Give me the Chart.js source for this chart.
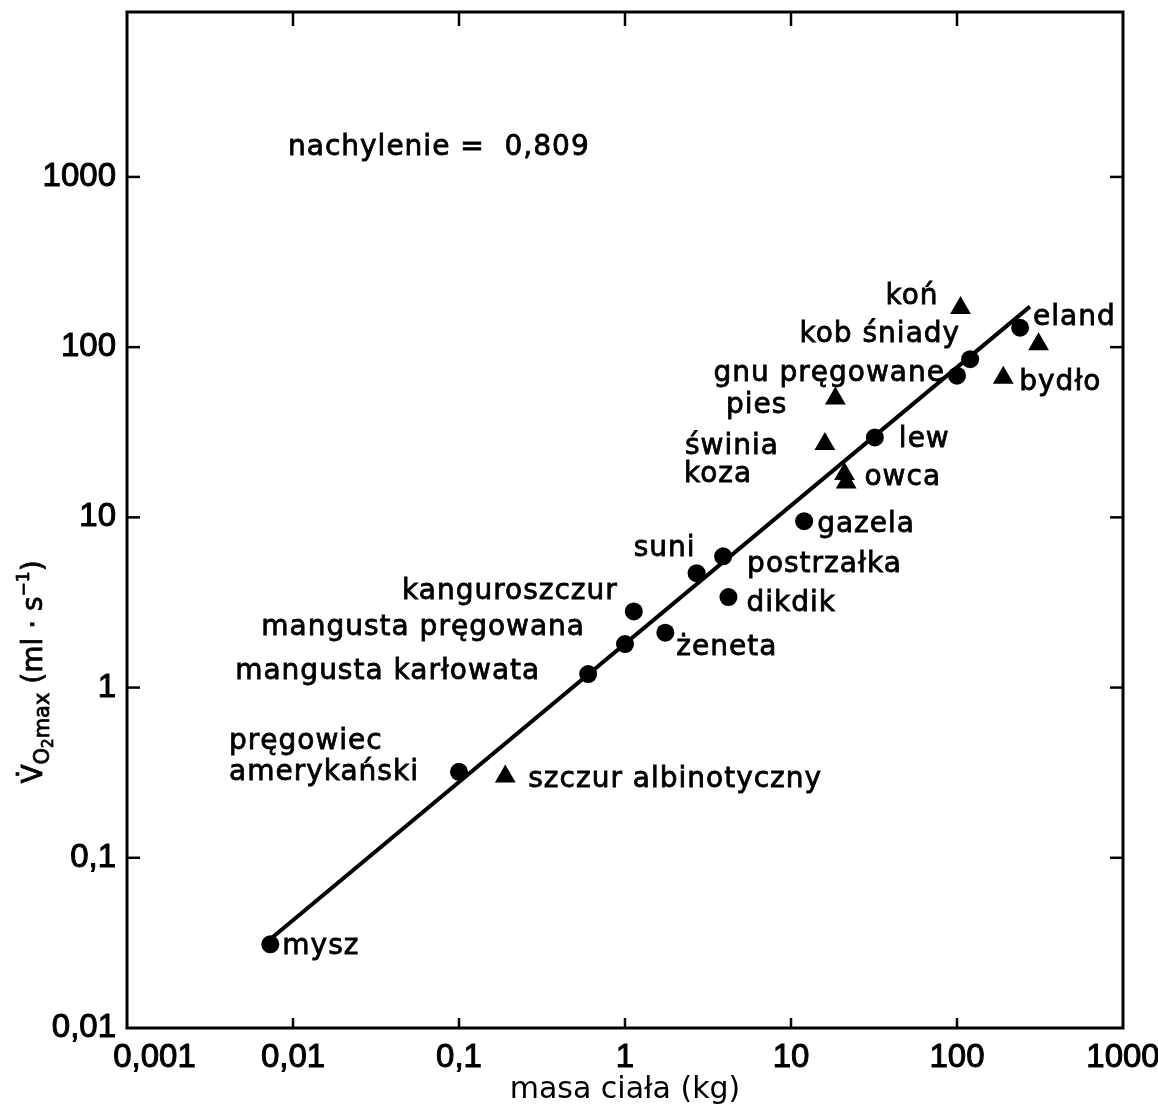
<!DOCTYPE html>
<html>
<head>
<meta charset="utf-8">
<script src="https://cdn.jsdelivr.net/npm/chart.js@4.4.1/dist/chart.umd.min.js"></script>
<style>
  html, body { margin: 0; padding: 0; background: #fff; }
  #wrap { width: 1158px; height: 1112px; }
</style>
</head>
<body>
<div id="wrap"><canvas id="chart"></canvas></div>
<script>
// Ssaki oznaczone kółkiem: masa ciała (kg) i VO2max (ml/s)
const circleNames = ['mysz', ['pręgowiec', 'amerykański'], 'mangusta karłowata', 'mangusta pręgowana',
    'kanguroszczur', 'żeneta', 'suni', 'postrzałka', 'dikdik', 'gazela', 'lew', 'gnu pręgowane',
    'kob śniady', 'eland'];
const circleMass = [0.0073, 0.1, 0.6, 1.0, 1.13, 1.75, 2.7, 3.9, 4.2, 12, 32, 100, 120, 240];
const circleVO2 = [0.031, 0.32, 1.2, 1.8, 2.8, 2.1, 4.7, 5.9, 3.4, 9.5, 29.5, 68, 85, 130];

// Ssaki oznaczone trójkątem
const triangleNames = ['szczur albinotyczny', 'owca', 'koza', 'świnia', 'pies', 'koń', 'bydło', ''];
const triangleMass = [0.19, 21, 21.5, 16, 18.5, 105, 190, 310];
const triangleVO2 = [0.3, 18, 16, 27, 50, 170, 66, 104];

// Prosta regresji (końce)
const lineMass = [0.0075, 275];
const lineVO2 = [0.034, 173];

const xTicks = [0.001, 0.01, 0.1, 1, 10, 100, 1000];
const xTickLabels = ['0,001', '0,01', '0,1', '1', '10', '100', '1000'];
const yTicks = [0.01, 0.1, 1, 10, 100, 1000];
const yTickLabels = ['0,01', '0,1', '1', '10', '100', '1000'];

const slopeText = 'nachylenie =  0,809';
const xTitle = 'masa ciała (kg)';

// Położenie podpisów względem punktu: [dx, dy, wyrównanie]
const circleLabelPos = [[12, 10, 'left'], [-230, -23, 'left'], [-48, 5, 'right'], [-40, -9, 'right'],
    [-16, -12, 'right'], [11, 22, 'left'], [-1, -17, 'right'], [24, 16, 'left'], [18, 14, 'left'],
    [13, 11, 'left'], [24, 10, 'left'], [-12, 5, 'right'], [-10, -17, 'right'], [13, -3, 'left']];
const triangleLabelPos = [[23, 10, 'left'], [20, 11, 'left'], [-94, -1, 'right'], [-46, 10, 'right'],
    [-48, 15, 'right'], [-22, -4, 'right'], [16, 12, 'left'], null];

const LABEL_FONT = '28px "DejaVu Sans"';

function toPoints(xs, ys) {
    return xs.map((v, i) => ({ x: v, y: ys[i] }));
}

function line(ctx, x1, y1, x2, y2) {
    ctx.beginPath();
    ctx.moveTo(x1, y1);
    ctx.lineTo(x2, y2);
    ctx.stroke();
}

// Tekst z lekkim pogrubieniem, jak w oryginale
function heavyText(ctx, txt, x, y) {
    ctx.fillText(txt, x, y);
    ctx.strokeText(txt, x, y);
}

// Tytuł osi Y z indeksami
function drawYTitle(ctx, cx, cy) {
    const parts = [
        { t: 'V\u0307', size: 28, dy: 0 },
        { t: 'O', size: 21, dy: 7 },
        { t: '2', size: 15, dy: 11 },
        { t: 'max', size: 21, dy: 7 },
        { t: ' (ml \u00b7 s', size: 28, dy: 0 },
        { t: '\u22121', size: 17, dy: -13 },
        { t: ')', size: 28, dy: 0 }
    ];
    ctx.save();
    ctx.translate(cx, cy);
    ctx.rotate(-Math.PI / 2);
    ctx.fillStyle = '#000';
    ctx.strokeStyle = '#000';
    ctx.lineWidth = 0.8;
    ctx.textBaseline = 'alphabetic';
    ctx.textAlign = 'left';
    let total = 0;
    parts.forEach(p => {
        ctx.font = p.size + 'px "DejaVu Sans"';
        p.w = ctx.measureText(p.t).width;
        total += p.w;
    });
    let pos = -total / 2;
    parts.forEach(p => {
        ctx.font = p.size + 'px "DejaVu Sans"';
        heavyText(ctx, p.t, pos, p.dy);
        pos += p.w;
    });
    ctx.restore();
}

function drawLabels(ctx, meta, names, offsets) {
    meta.data.forEach((pt, i) => {
        const off = offsets[i];
        if (!off || !names[i]) return;
        const lines = Array.isArray(names[i]) ? names[i] : [names[i]];
        ctx.textAlign = off[2];
        lines.forEach((txt, k) => {
            heavyText(ctx, txt, pt.x + off[0], pt.y + off[1] + k * 31);
        });
    });
}

const decorPlugin = {
    id: 'decor',
    afterDatasetsDraw(chart) {
        const { ctx, chartArea: a, scales: { x, y } } = chart;
        ctx.save();
        ctx.strokeStyle = '#000';
        ctx.fillStyle = '#000';

        // Ramka wykresu
        ctx.lineWidth = 3;
        ctx.strokeRect(a.left, a.top, a.right - a.left, a.bottom - a.top);

        // Znaczniki skierowane do środka
        ctx.lineWidth = 2.5;
        xTicks.forEach(v => {
            if (v <= x.min || v >= x.max) return;
            const px = x.getPixelForValue(v);
            line(ctx, px, a.bottom, px, a.bottom - 10);
            line(ctx, px, a.top, px, a.top + 14);
        });
        yTicks.forEach(v => {
            if (v <= y.min || v >= y.max) return;
            const py = y.getPixelForValue(v);
            line(ctx, a.left, py, a.left + 13, py);
            line(ctx, a.right, py, a.right - 13, py);
        });

        // Podpisy punktów
        ctx.font = LABEL_FONT;
        ctx.letterSpacing = '1px';
        ctx.lineWidth = 0.8;
        ctx.textBaseline = 'alphabetic';
        drawLabels(ctx, chart.getDatasetMeta(1), circleNames, circleLabelPos);
        drawLabels(ctx, chart.getDatasetMeta(2), triangleNames, triangleLabelPos);

        // Nachylenie
        ctx.textAlign = 'left';
        heavyText(ctx, slopeText, a.left + 161, a.top + 143);
        ctx.letterSpacing = '0px';
        ctx.restore();

        drawYTitle(ctx, 42, 672);
    }
};

Chart.defaults.font.family = '"DejaVu Sans"';
Chart.defaults.color = '#000';

const ctx = document.getElementById('chart').getContext('2d');
new Chart(ctx, {
    type: 'scatter',
    data: {
        datasets: [
            {
                label: 'regresja',
                data: toPoints(lineMass, lineVO2),
                showLine: true,
                borderColor: '#000',
                borderWidth: 4,
                pointRadius: 0,
                order: 3
            },
            {
                label: 'kółka',
                data: toPoints(circleMass, circleVO2),
                pointStyle: 'circle',
                pointRadius: 9,
                backgroundColor: '#000',
                borderColor: '#000',
                borderWidth: 0,
                order: 1
            },
            {
                label: 'trójkąty',
                data: toPoints(triangleMass, triangleVO2),
                pointStyle: 'triangle',
                pointRadius: 12,
                backgroundColor: '#000',
                borderColor: '#000',
                borderWidth: 0,
                order: 2
            }
        ]
    },
    options: {
        responsive: true,
        maintainAspectRatio: false,
        animation: false,
        layout: { padding: { top: 12, right: 35, left: 0, bottom: 0 } },
        plugins: {
            legend: { display: false },
            tooltip: { enabled: false }
        },
        scales: {
            x: {
                type: 'logarithmic',
                min: 0.001,
                max: 1000,
                afterFit: (scale) => {
                    scale.height = 84;
                    scale.paddingLeft = 0;
                    scale.paddingRight = 0;
                },
                afterBuildTicks: (scale) => { scale.ticks = xTicks.map(v => ({ value: v })); },
                grid: { display: false },
                border: { display: false },
                ticks: {
                    padding: 2,
                    maxRotation: 0,
                    autoSkip: false,
                    textStrokeColor: '#000',
                    textStrokeWidth: 1,
                    font: { family: '"Liberation Sans"', size: 33 },
                    callback: (value, index) => index === 0
                        ? '\u2007\u2007\u2007' + xTickLabels[index]
                        : xTickLabels[index]
                },
                title: {
                    display: true,
                    text: xTitle,
                    font: { size: 30 },
                    padding: { top: 0, bottom: 4 }
                }
            },
            y: {
                type: 'logarithmic',
                min: 0.01,
                max: 9310,
                afterFit: (scale) => {
                    scale.width = 127;
                    scale.paddingTop = 0;
                    scale.paddingBottom = 0;
                },
                afterBuildTicks: (scale) => { scale.ticks = yTicks.map(v => ({ value: v })); },
                grid: { display: false },
                border: { display: false },
                ticks: {
                    padding: 3,
                    autoSkip: false,
                    textStrokeColor: '#000',
                    textStrokeWidth: 1,
                    font: { family: '"Liberation Sans"', size: 33 },
                    callback: (value, index) => yTickLabels[index]
                }
            }
        }
    },
    plugins: [decorPlugin]
});
</script>
</body>
</html>
